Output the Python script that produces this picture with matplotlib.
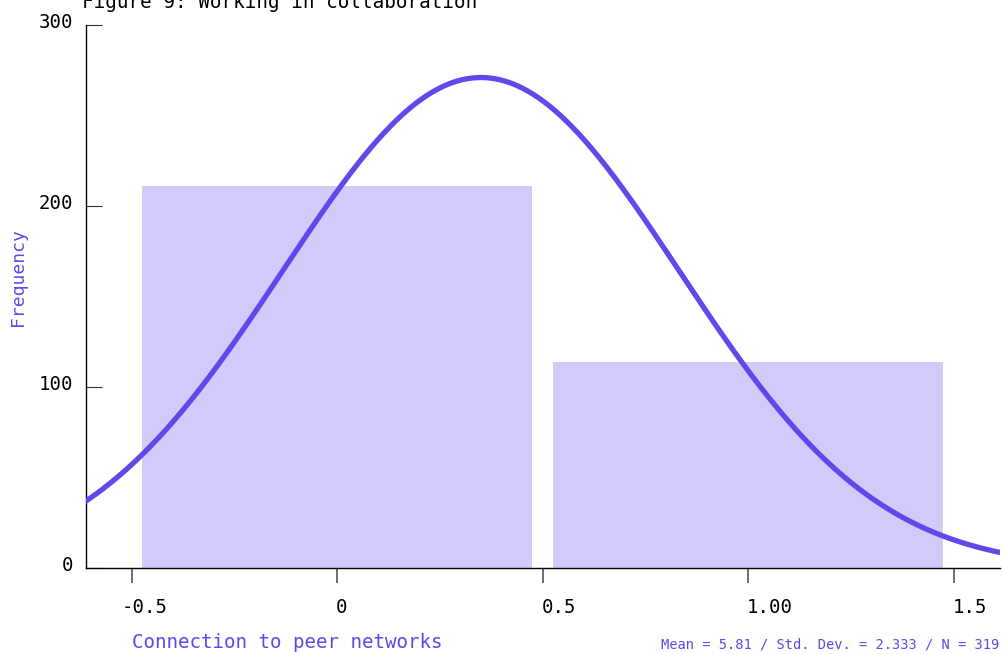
import numpy as np
import matplotlib.pyplot as plt
import matplotlib.transforms as mtransforms

# histogram data
bin_centers = [0, 1]
counts = [211, 114]
bar_width = 0.95

# fitted normal curve parameters
curve_mean = 0.35
curve_sd = 0.482
curve_peak = 271

xticks = [-0.5, 0, 0.5, 1.0, 1.5]
xtick_labels = ['-0.5', '0', '0.5', '1.00', '1.5']
yticks = [0, 100, 200, 300]
yticks_labels = ['0', '100', '200', '300']

line_col = '#6347ea'
bar_col = '#d2cbfa'
mono = 'DejaVu Sans Mono'

W, H = 1003, 654
fig = plt.figure(figsize=(W/100, H/100), dpi=100)
ax = fig.add_axes([86/W, (H-568.3)/H, (1000-86)/W, (568.3-25)/H])

ax.bar(bin_centers, counts, width=bar_width, color=bar_col, zorder=1)

xs = np.linspace(-0.62, 1.62, 400)
ys = curve_peak*np.exp(-(xs-curve_mean)**2/(2*curve_sd**2))
ax.plot(xs, ys, color=line_col, lw=3.8, solid_capstyle='round', zorder=3)

ax.set_xlim(-0.611, 1.613)
ax.set_ylim(0, 300)

for s in ['top', 'right']:
    ax.spines[s].set_visible(False)
for s in ['left', 'bottom']:
    ax.spines[s].set_linewidth(1)
    ax.spines[s].set_color('black')

ax.set_yticks(yticks)
ax.set_yticklabels(yticks_labels, fontfamily=mono, fontsize=13.7)
ax.tick_params(axis='y', direction='in', length=11.5, width=0.8, color='#333333', pad=9)
ax.set_xticks(xticks)
ax.set_xticklabels(xtick_labels, fontfamily=mono, fontsize=13.7)
ax.tick_params(axis='x', direction='out', length=10.5, width=1.2, color='#555555', pad=11)

for lab in ax.get_yticklabels():
    lab.set_transform(lab.get_transform() + mtransforms.ScaledTranslation(0, 5/100, fig.dpi_scale_trans))
for lab, t in zip(ax.get_xticklabels(), xtick_labels):
    lab.set_horizontalalignment('left')
    dx = -10/100 if t.startswith('-') else -1/100
    lab.set_transform(lab.get_transform() + mtransforms.ScaledTranslation(dx, 0, fig.dpi_scale_trans))

fig.text(82/W, 1-8/H, 'Figure 9: Working in collaboration', fontfamily=mono,
         fontsize=13.9, ha='left', va='baseline')
fig.text(132/W, 1-648/H, 'Connection to peer networks', fontfamily=mono,
         fontsize=13.8, color=line_col, ha='left', va='baseline')
fig.text(999/W, 1-648/H, 'Mean = 5.81 / Std. Dev. = 2.333 / N = 319', fontfamily=mono,
         fontsize=9.9, color=line_col, ha='right', va='baseline')
fig.text(18/W, 1-277/H, 'Frequency', fontfamily=mono, fontsize=13,
         color=line_col, rotation=90, ha='center', va='center')

fig.savefig('out.png', dpi=100)
